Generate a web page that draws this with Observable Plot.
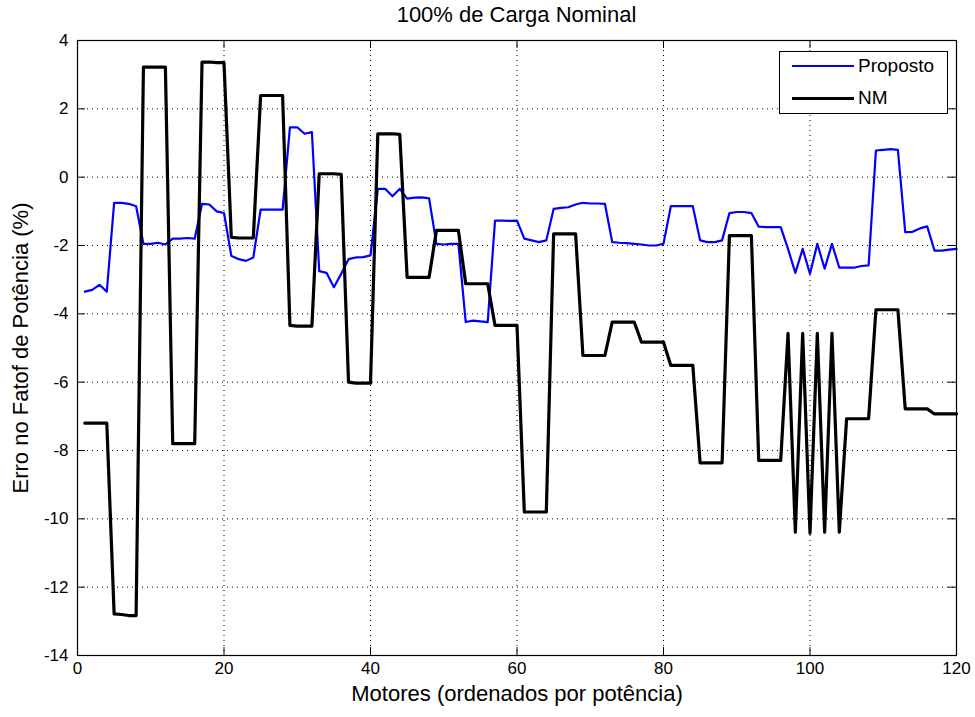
<!DOCTYPE html>
<html><head><meta charset="utf-8">
<script src="https://cdn.jsdelivr.net/npm/d3@7"></script>
<script src="https://cdn.jsdelivr.net/npm/@observablehq/plot@0.6"></script>
<style>
body{margin:0;background:#fff;font-family:"Liberation Sans",Arial,sans-serif;}
#wrap{position:relative;width:975px;}
#title{height:30px;line-height:30px;font-size:22px;text-align:center;padding-left:77px;padding-right:19px;box-sizing:border-box;width:975px;color:#000;}
#legend{position:absolute;left:779px;top:51px;width:169px;height:63px;box-sizing:border-box;border:1px solid #000;background:#fff;}
.sw{position:absolute;left:12px;width:62px;height:0;}
.lt{position:absolute;left:78px;font-size:19px;line-height:20px;color:#000;}
</style>
</head><body>
<div id="wrap">
<div id="title"></div>
<div id="chart"></div>
<div id="legend"></div>
</div>
<script>
const title = "100% de Carga Nominal";
const xLabel = "Motores (ordenados por potência)";
const yLabel = "Erro no Fatof de Potência (%)";
const seriesNames = ["Proposto", "NM"];
const seriesColors = ["#0000ff", "#000000"];
const xTicks = [0, 20, 40, 60, 80, 100, 120];
const yTicks = [4, 2, 0, -2, -4, -6, -8, -10, -12, -14];
const motores = d3.range(1, 121);

const proposto = [
  -3.35, -3.3, -3.15, -3.35,
  -0.75, -0.75, -0.78, -0.85,
  -1.95, -1.95, -1.92, -1.97,
  -1.8, -1.8, -1.78, -1.8,
  -0.78, -0.8, -1.0, -1.05,
  -2.3, -2.4, -2.45, -2.35,
  -0.95, -0.95, -0.95, -0.95,
  1.46, 1.46, 1.27, 1.32,
  -2.75, -2.8, -3.22, -2.83,
  -2.4, -2.35, -2.34, -2.29,
  -0.34, -0.34, -0.56, -0.34,
  -0.63, -0.6, -0.59, -0.62,
  -1.95, -1.97, -1.95, -1.95,
  -4.24, -4.2, -4.22, -4.24,
  -1.27, -1.27, -1.28, -1.27,
  -1.8, -1.85, -1.9, -1.85,
  -0.93, -0.9, -0.88, -0.8,
  -0.75, -0.77, -0.77, -0.78,
  -1.9, -1.92, -1.93, -1.95,
  -1.97, -2.0, -2.0, -1.95,
  -0.85, -0.85, -0.85, -0.85,
  -1.85, -1.9, -1.9, -1.85,
  -1.05, -1.02, -1.02, -1.05,
  -1.45, -1.46, -1.46, -1.46,
  -2.1, -2.8, -2.1, -2.83,
  -1.95, -2.68, -1.95, -2.65,
  -2.65, -2.65, -2.6, -2.58,
  0.78, 0.8, 0.82, 0.8,
  -1.61, -1.6, -1.5, -1.44,
  -2.15, -2.15, -2.12, -2.1
];

const nm = [
  -7.2, -7.2, -7.2, -7.2,
  -12.78, -12.8, -12.83, -12.83,
  3.22, 3.22, 3.22, 3.22,
  -7.8, -7.8, -7.8, -7.8,
  3.37, 3.37, 3.35, 3.35,
  -1.76, -1.78, -1.78, -1.78,
  2.39, 2.39, 2.39, 2.39,
  -4.34, -4.36, -4.36, -4.36,
  0.1, 0.1, 0.1, 0.08,
  -6.0, -6.03, -6.03, -6.03,
  1.27, 1.27, 1.27, 1.25,
  -2.93, -2.93, -2.93, -2.93,
  -1.56, -1.56, -1.56, -1.56,
  -3.12, -3.12, -3.12, -3.12,
  -4.34, -4.34, -4.34, -4.34,
  -9.8, -9.8, -9.8, -9.8,
  -1.66, -1.66, -1.66, -1.66,
  -5.22, -5.22, -5.22, -5.22,
  -4.24, -4.24, -4.24, -4.24,
  -4.83, -4.83, -4.83, -4.83,
  -5.51, -5.51, -5.51, -5.51,
  -8.36, -8.36, -8.36, -8.36,
  -1.71, -1.71, -1.71, -1.71,
  -8.29, -8.29, -8.29, -8.29,
  -4.57, -10.39, -4.57, -10.42,
  -4.57, -10.39, -4.57, -10.39,
  -7.07, -7.07, -7.07, -7.07,
  -3.88, -3.88, -3.88, -3.88,
  -6.78, -6.78, -6.78, -6.78,
  -6.93, -6.93, -6.93, -6.93
];

const rows = motores.map((m, i) => ({motor: m, proposto: proposto[i], nm: nm[i]}));

document.getElementById("title").textContent = title;

const ink = {stroke: "#000", strokeOpacity: 1};
const plainFormat = d => String(d);
const chart = Plot.plot({
  width: 975,
  height: 687,
  marginTop: 10,
  marginBottom: 62,
  marginLeft: 77,
  marginRight: 19,
  style: {fontFamily: "'Liberation Sans', Arial, sans-serif", fontSize: "17px", background: "#fff", color: "#000"},
  x: {domain: [0, 120]},
  y: {domain: [-14, 4]},
  marks: [
    Plot.gridX(xTicks, {...ink, strokeDasharray: "1,4"}),
    Plot.gridY(yTicks, {...ink, strokeDasharray: "1,4"}),
    Plot.gridX(xTicks, {...ink, insetTop: 607}),
    Plot.gridX(xTicks, {...ink, insetBottom: 607}),
    Plot.gridY(yTicks, {...ink, insetLeft: 871}),
    Plot.gridY(yTicks, {...ink, insetRight: 871}),
    Plot.line(rows, {x: "motor", y: "proposto", stroke: seriesColors[0], strokeWidth: 2.2}),
    Plot.line(rows, {x: "motor", y: "nm", stroke: seriesColors[1], strokeWidth: 3.2}),
    Plot.frame({stroke: "#000", strokeWidth: 1.2}),
    Plot.axisX(xTicks, {tickSize: 0, tickPadding: 6, label: null, fontSize: 17, tickFormat: plainFormat}),
    Plot.axisY(yTicks, {tickSize: 0, tickPadding: 9, label: null, fontSize: 17, tickFormat: plainFormat}),
    Plot.text([xLabel], {frameAnchor: "bottom", lineAnchor: "middle", textAnchor: "middle", dy: 38, fontSize: 22, text: d => d}),
    Plot.text([yLabel], {frameAnchor: "left", lineAnchor: "middle", textAnchor: "middle", dx: -57, rotate: -90, fontSize: 22, text: d => d})
  ]
});
document.getElementById("chart").appendChild(chart);

const legend = document.getElementById("legend");
seriesNames.forEach((name, i) => {
  const top = i === 0 ? 14 : 46;
  const sw = document.createElement("div");
  sw.className = "sw";
  sw.style.top = (top - 1) + "px";
  sw.style.borderTop = (i === 0 ? 2 : 3) + "px solid " + seriesColors[i];
  legend.appendChild(sw);
  const t = document.createElement("div");
  t.className = "lt";
  t.style.top = (top - 10) + "px";
  t.textContent = name;
  legend.appendChild(t);
});
</script>
</body></html>
